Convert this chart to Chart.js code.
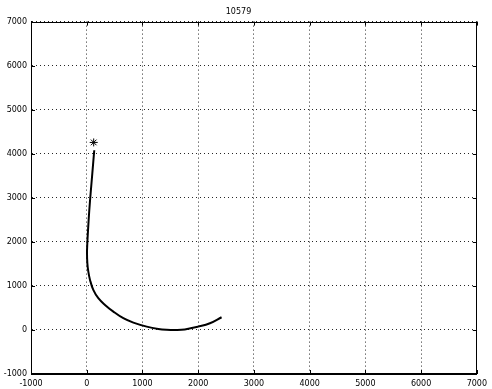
<!DOCTYPE html>
<html>
<head>
<meta charset="utf-8">
<script src="https://cdn.jsdelivr.net/npm/chart.js@4"></script>
<style>
  html, body { margin: 0; padding: 0; background: #fff; }
  #wrap { width: 492px; height: 389px; }
</style>
</head>
<body>
<div id="wrap"><canvas id="trackChart"></canvas></div>
<script>
  var chartTitle = "10579";
  var pathX = [135, 100, 70, 45, 25, 10, 5, 11, 28, 59, 118, 208, 328, 478, 657, 837, 1077, 1285, 1434, 1600, 1760, 2000, 2211, 2420];
  var pathY = [4080, 3550, 3100, 2700, 2300, 1950, 1750, 1516, 1330, 1136, 909, 720, 568, 416, 266, 166, 75, 23, 5, 0, 12, 75, 152, 288];
  var startX = [125];
  var startY = [4257];
  var axisMin = -1000;
  var axisMax = 7000;
  var tickStep = 1000;

  function toPoints(xs, ys) {
    var pts = [];
    for (var i = 0; i < xs.length; i++) {
      pts.push({ x: xs[i], y: ys[i] });
    }
    return pts;
  }

  // box round the plot plus short inward ticks on all four sides
  var frameTicks = {
    id: "frameTicks",
    afterDraw: function (chart) {
      var ctx = chart.ctx;
      var a = chart.chartArea;
      var xs = chart.scales.x;
      var ys = chart.scales.y;
      var len = 4;
      ctx.save();
      ctx.strokeStyle = "#000";
      ctx.lineWidth = 1;
      ctx.beginPath();
      xs.ticks.forEach(function (t) {
        var px = Math.round(xs.getPixelForValue(t.value)) + 0.5;
        ctx.moveTo(px, a.bottom);
        ctx.lineTo(px, a.bottom - len);
        ctx.moveTo(px, a.top);
        ctx.lineTo(px, a.top + len);
      });
      ys.ticks.forEach(function (t) {
        var py = Math.round(ys.getPixelForValue(t.value)) + 0.5;
        ctx.moveTo(a.left, py);
        ctx.lineTo(a.left + len, py);
        ctx.moveTo(a.right, py);
        ctx.lineTo(a.right - len, py);
      });
      ctx.stroke();
      ctx.strokeRect(Math.round(a.left) + 0.5, Math.round(a.top) + 0.5,
        Math.round(a.right - a.left) - 1, Math.round(a.bottom - a.top) - 1);
      ctx.restore();
    }
  };

  var tickFont = { family: "DejaVu Sans", size: 8 };
  function plainTick(value) { return String(value); }

  new Chart(document.getElementById("trackChart"), {
    type: "scatter",
    data: {
      datasets: [
        {
          label: "path",
          data: toPoints(pathX, pathY),
          showLine: true,
          borderColor: "#000",
          borderWidth: 2,
          pointRadius: 0,
          tension: 0.4,
          fill: false,
        },
        {
          label: "start",
          data: toPoints(startX, startY),
          showLine: false,
          pointStyle: "star",
          pointRadius: 4,
          borderColor: "#000",
          borderWidth: 1,
          backgroundColor: "#000",
        },
      ],
    },
    options: {
      responsive: true,
      maintainAspectRatio: false,
      animation: false,
      layout: { padding: { top: 0, right: 15, bottom: 0, left: 0 } },
      scales: {
        x: {
          type: "linear",
          min: axisMin,
          max: axisMax,
          ticks: { stepSize: tickStep, color: "#000", font: tickFont, padding: 5, maxRotation: 0, callback: plainTick },
          grid: { color: "rgba(0,0,0,0.85)", drawTicks: false },
          border: { display: true, color: "#000", dash: [1, 3] },
          afterFit: function (scale) { scale.height = 15; },
        },
        y: {
          type: "linear",
          min: axisMin,
          max: axisMax,
          ticks: { stepSize: tickStep, color: "#000", font: tickFont, padding: 4, callback: plainTick },
          grid: { color: "rgba(0,0,0,0.85)", drawTicks: false },
          border: { display: true, color: "#000", dash: [1, 3] },
          afterFit: function (scale) { scale.width = 31; },
        },
      },
      plugins: {
        legend: { display: false },
        tooltip: { enabled: false },
        title: {
          display: true,
          text: chartTitle,
          color: "#000",
          font: { family: "DejaVu Sans", size: 8, weight: "normal" },
          padding: { top: 7, bottom: 5 },
        },
      },
    },
    plugins: [frameTicks],
  });
</script>
</body>
</html>
